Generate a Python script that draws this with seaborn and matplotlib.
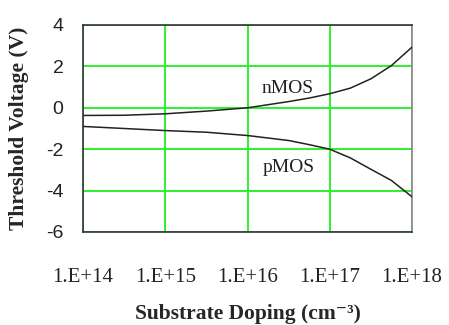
import matplotlib
matplotlib.use("Agg")
import matplotlib.pyplot as plt
import seaborn as sns
import pandas as pd
import numpy as np

# Data
log_doping = [14.0, 14.5, 15.0, 15.5, 16.0, 16.5, 16.75, 17.0, 17.25, 17.5, 17.75, 18.0]
nmos_vt = [-0.37, -0.36, -0.29, -0.16, 0.0, 0.30, 0.47, 0.68, 0.95, 1.40, 2.04, 2.93]
pmos_vt = [-0.90, -1.00, -1.10, -1.18, -1.34, -1.58, -1.78, -2.0, -2.42, -2.97, -3.51, -4.3]
x_tick_exps = [14, 15, 16, 17, 18]
x_tick_labels = ["1.E+14", "1.E+15", "1.E+16", "1.E+17", "1.E+18"]
y_ticks = [-6, -4, -2, 0, 2, 4]

doping = [10.0 ** e for e in log_doping]
df = pd.concat([
    pd.DataFrame({"doping": doping, "vt": nmos_vt, "device": "nMOS"}),
    pd.DataFrame({"doping": doping, "vt": pmos_vt, "device": "pMOS"}),
])

sns.set_style("white")
plt.rcParams["font.family"] = ["Liberation Serif", "DejaVu Serif"]

fig = plt.figure(figsize=(4.49, 3.25), dpi=100)
ax = fig.add_axes([83 / 449, 1 - 232 / 325, (412 - 83) / 449, (232 - 25) / 325])

sns.lineplot(data=df, x="doping", y="vt", hue="device", palette=["#222222", "#222222"],
             linewidth=1.1, legend=False, ax=ax, zorder=3)

ax.set_xscale("log")
ax.set_xlim(1e14, 1e18)
ax.set_ylim(-6, 4)
ax.set_xticks([10.0 ** e for e in x_tick_exps])
ax.set_xticklabels(x_tick_labels)
ax.minorticks_off()
ax.set_yticks(y_ticks)
ax.set_yticklabels([str(v) for v in y_ticks], family=["Liberation Sans", "DejaVu Sans"])

ax.grid(True, color="#2ef02e", linewidth=1.4, zorder=1)
ax.set_axisbelow(True)
for s in ax.spines.values():
    s.set_color("#333333")
    s.set_linewidth(1.2)
ax.spines["right"].set_color("#888888")

ax.tick_params(axis="x", length=0, pad=26, labelsize=15, colors="#222222")
ax.tick_params(axis="y", length=0, pad=14, labelsize=14, colors="#222222")

ax.set_xlabel("Substrate Doping (cm\u207B\u00B3)", fontsize=15.5, fontweight="bold", labelpad=12)
ax.set_ylabel("Threshold Voltage (V)", fontsize=15.5, fontweight="bold", labelpad=12)

ax.text(10 ** 16.49, 0.92, "nMOS", fontsize=14, ha="center", va="center", color="#222222")
ax.text(10 ** 16.5, -2.87, "pMOS", fontsize=14, ha="center", va="center", color="#222222")

fig.savefig("out.png", dpi=100)
